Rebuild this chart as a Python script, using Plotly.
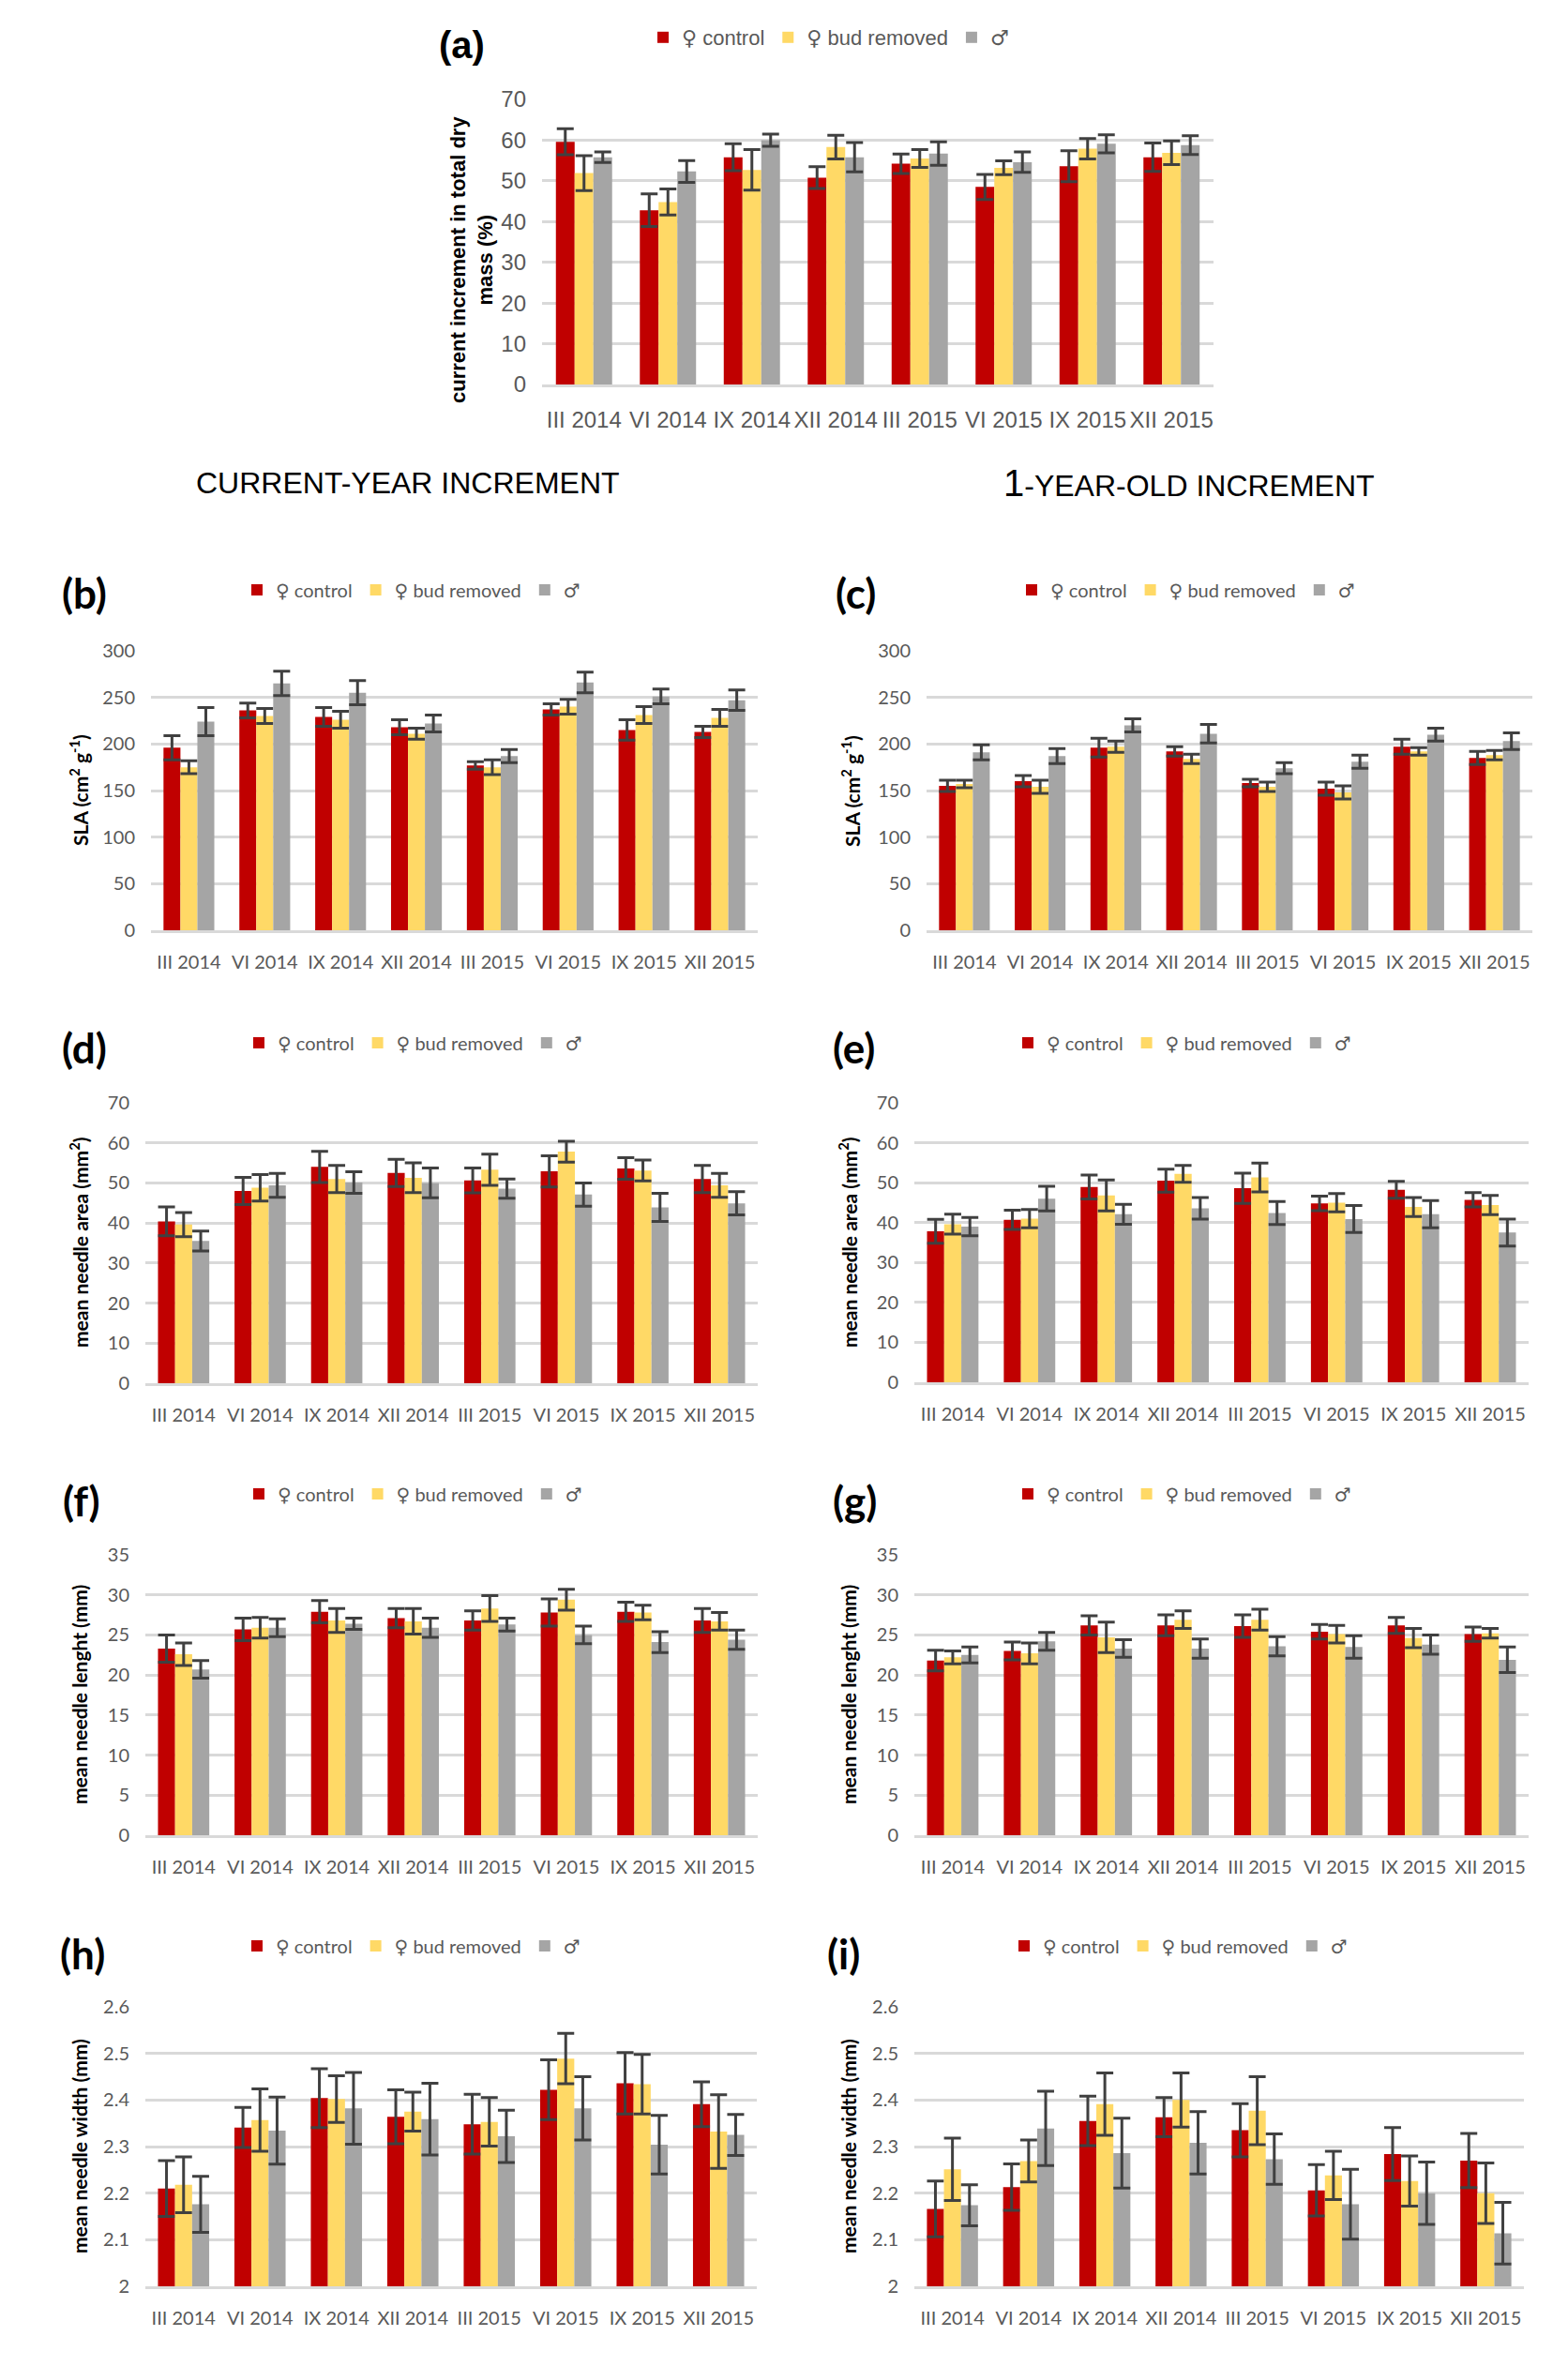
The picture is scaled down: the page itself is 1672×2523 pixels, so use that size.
import plotly.graph_objects as go

W, H = 1672, 2523
OFF = 8  # page body margin of the saved html

categories = ["III 2014", "VI 2014", "IX 2014", "XII 2014", "III 2015", "VI 2015", "IX 2015", "XII 2015"]
SYM = '<span style="font-family:DejaVu Sans">{}</span>'
series_names = [SYM.format("\u2640") + " control", SYM.format("\u2640") + " bud removed", SYM.format("\u2642")]

# (a) current increment in total dry mass (%)
a_control = [59.6, 42.8, 55.8, 50.8, 54.2, 48.5, 53.6, 55.8]
a_control_err = [3.2, 4.0, 3.3, 2.7, 2.4, 3.1, 3.8, 3.5]
a_bud = [51.9, 44.8, 52.7, 58.3, 55.5, 53.2, 57.9, 56.9]
a_bud_err = [4.3, 3.2, 5.0, 2.9, 2.2, 1.7, 2.5, 2.9]
a_male = [55.8, 52.3, 60.0, 55.8, 56.7, 54.6, 59.1, 58.8]
a_male_err = [1.3, 2.7, 1.5, 3.6, 2.9, 2.5, 2.2, 2.3]

# (b) SLA current-year
b_control = [196, 236, 229, 218, 177, 237, 215, 213]
b_control_err = [13, 8, 10, 8, 4, 6, 11, 6]
b_bud = [175, 230, 226, 211, 175, 240, 231, 228]
b_bud_err = [7, 8, 9, 6, 8, 8, 9, 9]
b_male = [224, 265, 255, 222, 187, 266, 251, 247]
b_male_err = [15, 13, 13, 9, 7, 11, 8, 11]

# (c) SLA 1-year-old
c_control = [155, 160, 196, 192, 158, 152, 197, 185]
c_control_err = [6, 6, 10, 5, 4, 7, 8, 7]
c_bud = [157, 154, 197, 184, 154, 148, 192, 188]
c_bud_err = [4, 7, 6, 5, 5, 7, 4, 5]
c_male = [191, 187, 220, 211, 174, 181, 210, 203]
c_male_err = [8, 8, 7, 10, 6, 7, 7, 9]

# (d) mean needle area current-year
d_control = [40.4, 48.0, 54.0, 52.5, 50.6, 52.9, 53.6, 51.0]
d_control_err = [3.6, 3.4, 3.9, 3.4, 3.1, 3.9, 2.7, 3.4]
d_bud = [39.6, 48.8, 51.0, 51.3, 53.3, 57.8, 53.1, 49.4]
d_bud_err = [3.0, 3.3, 3.4, 3.7, 3.9, 2.6, 2.6, 3.0]
d_male = [35.5, 49.4, 50.1, 50.0, 48.6, 47.1, 43.9, 44.9]
d_male_err = [2.5, 3.0, 2.7, 3.7, 2.4, 2.9, 3.5, 2.9]

# (e) mean needle area 1-year-old
e_control = [37.8, 40.7, 48.9, 50.5, 48.6, 44.8, 48.2, 45.7]
e_control_err = [3.0, 2.4, 3.0, 2.9, 3.8, 1.8, 2.1, 1.8]
e_bud = [39.6, 41.0, 46.8, 52.2, 51.3, 45.0, 43.9, 44.4]
e_bud_err = [2.5, 2.3, 3.9, 2.1, 3.6, 2.3, 2.4, 2.4]
e_male = [39.0, 46.0, 42.1, 43.6, 42.4, 40.9, 42.1, 37.5]
e_male_err = [2.3, 3.1, 2.5, 2.7, 2.9, 3.4, 3.4, 3.4]

# (f) mean needle length current-year
f_control = [23.3, 25.7, 27.9, 27.1, 26.8, 27.8, 27.9, 26.8]
f_control_err = [1.7, 1.4, 1.4, 1.2, 1.2, 1.7, 1.2, 1.5]
f_bud = [22.6, 25.9, 26.8, 26.7, 28.3, 29.4, 27.8, 26.7]
f_bud_err = [1.4, 1.3, 1.5, 1.6, 1.6, 1.3, 0.9, 1.1]
f_male = [20.7, 25.9, 26.4, 25.9, 26.3, 25.0, 24.1, 24.4]
f_male_err = [1.1, 1.1, 0.7, 1.2, 0.8, 1.1, 1.3, 1.2]

# (g) mean needle length 1-year-old
g_control = [21.8, 23.0, 26.2, 26.2, 26.1, 25.4, 26.2, 25.1]
g_control_err = [1.3, 1.1, 1.2, 1.3, 1.4, 0.9, 1.0, 0.9]
g_bud = [22.2, 22.7, 24.7, 26.9, 26.9, 25.1, 24.6, 25.2]
g_bud_err = [0.8, 1.3, 1.9, 1.1, 1.3, 1.1, 1.2, 0.6]
g_male = [22.5, 24.2, 23.3, 23.3, 23.6, 23.5, 23.8, 21.9]
g_male_err = [1.0, 1.1, 1.1, 1.2, 1.2, 1.4, 1.2, 1.6]

# (h) mean needle width current-year
h_control = [2.21, 2.341, 2.404, 2.364, 2.348, 2.422, 2.436, 2.391]
h_control_err = [0.06, 0.043, 0.063, 0.058, 0.064, 0.064, 0.066, 0.048]
h_bud = [2.218, 2.357, 2.402, 2.375, 2.353, 2.489, 2.434, 2.332]
h_bud_err = [0.06, 0.067, 0.05, 0.042, 0.052, 0.054, 0.064, 0.079]
h_male = [2.176, 2.334, 2.382, 2.359, 2.322, 2.382, 2.304, 2.325]
h_male_err = [0.06, 0.072, 0.077, 0.077, 0.056, 0.068, 0.063, 0.044]

# (i) mean needle width 1-year-old
i_control = [2.166, 2.213, 2.355, 2.363, 2.335, 2.206, 2.284, 2.27]
i_control_err = [0.06, 0.05, 0.053, 0.042, 0.057, 0.055, 0.057, 0.058]
i_bud = [2.251, 2.269, 2.391, 2.4, 2.377, 2.238, 2.226, 2.2]
i_bud_err = [0.067, 0.045, 0.067, 0.058, 0.073, 0.052, 0.054, 0.065]
i_male = [2.174, 2.339, 2.286, 2.308, 2.273, 2.176, 2.2, 2.114]
i_male_err = [0.044, 0.08, 0.075, 0.067, 0.054, 0.075, 0.067, 0.066]

colors = ["#C00000", "#FFD966", "#A5A5A5"]
ERR_COLOR = "#404040"
GRID = "#D9D9D9"
TICK_COLOR = "#595959"
FONT_A = "Liberation Sans, Arial, sans-serif"
FONT_B = "Lato, Calibri, sans-serif"

def px(x):
    return (x - OFF) / W

def py(y):
    return 1 - (y - OFF) / H

panels = [
    dict(letter="(a)", data=[(a_control, a_control_err), (a_bud, a_bud_err), (a_male, a_male_err)],
         xd=(578, 1294), yd=(106, 410), rng=[0, 70], dtick=10,
         title="current increment in total dry<br>mass (%)", tx=503, ty=277, tsz=22,
         font=FONT_A, tfs=24, lfs=22, lpos=(884, 40), letpos=(492, 48), lsz=40),
    dict(letter="(b)", data=[(b_control, b_control_err), (b_bud, b_bud_err), (b_male, b_male_err)],
         xd=(161, 808), yd=(694, 992), rng=[0, 300], dtick=50,
         title="SLA (cm<sup>2</sup> g<sup>-1</sup>)", tx=84, ty=843, tsz=21,
         font=FONT_B, tfs=20, lfs=20, lpos=(439, 629), letpos=(90, 632), lsz=44),
    dict(letter="(c)", data=[(c_control, c_control_err), (c_bud, c_bud_err), (c_male, c_male_err)],
         xd=(988, 1634), yd=(694, 992), rng=[0, 300], dtick=50,
         title="SLA (cm<sup>2</sup> g<sup>-1</sup>)", tx=907, ty=843, tsz=21,
         font=FONT_B, tfs=20, lfs=20, lpos=(1265, 629), letpos=(912, 632), lsz=44),
    dict(letter="(d)", data=[(d_control, d_control_err), (d_bud, d_bud_err), (d_male, d_male_err)],
         xd=(155, 808), yd=(1176, 1475), rng=[0, 70], dtick=10,
         title="mean needle area (mm<sup>2</sup>)", tx=84, ty=1325, tsz=21,
         font=FONT_B, tfs=20, lfs=20, lpos=(441, 1112), letpos=(90, 1117), lsz=44),
    dict(letter="(e)", data=[(e_control, e_control_err), (e_bud, e_bud_err), (e_male, e_male_err)],
         xd=(975, 1630), yd=(1176, 1474), rng=[0, 70], dtick=10,
         title="mean needle area (mm<sup>2</sup>)", tx=904, ty=1325, tsz=21,
         font=FONT_B, tfs=20, lfs=20, lpos=(1261, 1112), letpos=(910, 1117), lsz=44),
    dict(letter="(f)", data=[(f_control, f_control_err), (f_bud, f_bud_err), (f_male, f_male_err)],
         xd=(155, 808), yd=(1658, 1957), rng=[0, 35], dtick=5,
         title="mean needle lenght (mm)", tx=84, ty=1807, tsz=21,
         font=FONT_B, tfs=20, lfs=20, lpos=(441, 1593), letpos=(86, 1600), lsz=44),
    dict(letter="(g)", data=[(g_control, g_control_err), (g_bud, g_bud_err), (g_male, g_male_err)],
         xd=(975, 1630), yd=(1658, 1957), rng=[0, 35], dtick=5,
         title="mean needle lenght (mm)", tx=904, ty=1807, tsz=21,
         font=FONT_B, tfs=20, lfs=20, lpos=(1261, 1593), letpos=(911, 1600), lsz=44),
    dict(letter="(h)", data=[(h_control, h_control_err), (h_bud, h_bud_err), (h_male, h_male_err)],
         xd=(155, 807), yd=(2140, 2438), rng=[2, 2.6], dtick=0.1,
         title="mean needle width (mm)", tx=84, ty=2289, tsz=21,
         font=FONT_B, tfs=20, lfs=20, lpos=(439, 2075), letpos=(88, 2083), lsz=44),
    dict(letter="(i)", data=[(i_control, i_control_err), (i_bud, i_bud_err), (i_male, i_male_err)],
         xd=(975, 1625), yd=(2140, 2438), rng=[2, 2.6], dtick=0.1,
         title="mean needle width (mm)", tx=904, ty=2289, tsz=21,
         font=FONT_B, tfs=20, lfs=20, lpos=(1257, 2075), letpos=(900, 2083), lsz=44),
]

fig = go.Figure()
layout = dict(
    width=W, height=H, autosize=False,
    margin=dict(l=0, r=0, t=0, b=0, pad=0, autoexpand=False),
    paper_bgcolor="white", plot_bgcolor="white",
    barmode="group", bargap=0.33, bargroupgap=0.0,
    showlegend=True,
)
annotations = []

for k, p in enumerate(panels):
    n = k + 1
    sfx = "" if n == 1 else str(n)
    xa, ya = "x" + sfx, "y" + sfx
    leg = "legend" + sfx
    for j, (vals, errs) in enumerate(p["data"]):
        fig.add_trace(go.Bar(
            x=categories, y=vals, name=series_names[j],
            marker=dict(color=colors[j], line=dict(width=0)),
            error_y=dict(type="data", array=errs, visible=True, color=ERR_COLOR,
                         thickness=3, width=9),
            xaxis=xa, yaxis=ya, legend=leg, offsetgroup=str(j),
        ))
    layout["xaxis" + sfx] = dict(
        domain=[px(p["xd"][0]), px(p["xd"][1])], anchor=ya, automargin=False,
        showgrid=False, zeroline=False, showline=True, linecolor=GRID, linewidth=2.5,
        ticks="", tickfont=dict(family=p["font"], size=p["tfs"], color=TICK_COLOR),
        ticklabelstandoff=14, fixedrange=True,
    )
    layout["yaxis" + sfx] = dict(
        domain=[py(p["yd"][1]), py(p["yd"][0])], anchor=xa, automargin=False,
        range=p["rng"], dtick=p["dtick"], tick0=p["rng"][0],
        showgrid=True, gridcolor=GRID, gridwidth=2.5, zeroline=False, showline=False,
        ticks="", tickfont=dict(family=p["font"], size=p["tfs"], color=TICK_COLOR),
        ticklabelstandoff=16, fixedrange=True,
    )
    layout[leg] = dict(
        orientation="h", x=px(p["lpos"][0]), y=py(p["lpos"][1]),
        xanchor="center", yanchor="middle", bgcolor="rgba(0,0,0,0)",
        font=dict(family=p["font"], size=p["lfs"], color=TICK_COLOR),
        itemwidth=30, traceorder="normal",
    )
    annotations.append(dict(
        text="<b>" + p["letter"] + "</b>", x=px(p["letpos"][0]), y=py(p["letpos"][1]),
        xref="paper", yref="paper", xanchor="center", yanchor="middle", showarrow=False,
        font=dict(family=p["font"], size=p["lsz"], color="black"),
    ))
    annotations.append(dict(
        text="<b>" + p["title"] + "</b>", x=px(p["tx"]), y=py(p["ty"]),
        xref="paper", yref="paper", xanchor="center", yanchor="middle", showarrow=False,
        textangle=-90, font=dict(family=p["font"], size=p["tsz"], color="black"),
    ))

annotations.append(dict(
    text="CURRENT-YEAR INCREMENT", x=px(435), y=py(515), xref="paper", yref="paper",
    xanchor="center", yanchor="middle", showarrow=False,
    font=dict(family=FONT_A, size=32, color="black"),
))
annotations.append(dict(
    text='<span style="font-size:40px">1</span>-YEAR-OLD INCREMENT', x=px(1268), y=py(515),
    xref="paper", yref="paper", xanchor="center", yanchor="middle", showarrow=False,
    font=dict(family=FONT_A, size=32, color="black"),
))

layout["annotations"] = annotations
fig.update_layout(**layout)
fig.write_html("out.html")
